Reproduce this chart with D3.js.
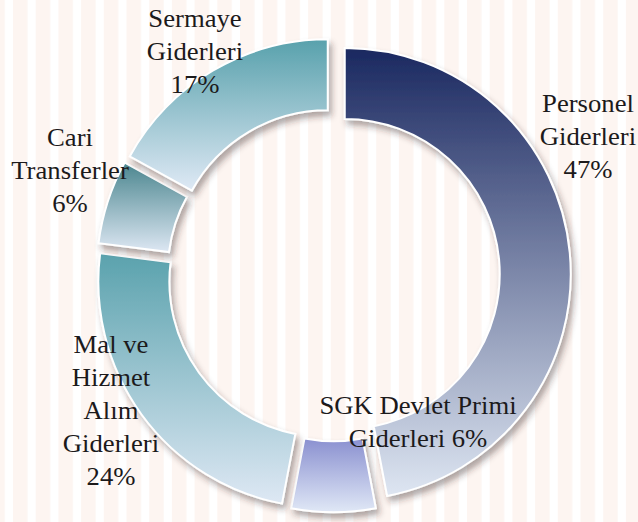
<!DOCTYPE html>
<html>
<head>
<meta charset="utf-8">
<script src="https://cdn.jsdelivr.net/npm/d3@7"></script>
<style>
  html, body { margin: 0; padding: 0; background: #fff; }
  svg { display: block; }
</style>
</head>
<body>
<svg id="chart" width="638" height="522"></svg>
<script>
// ---- data ----
const categories = ["Personel Giderleri", "SGK Devlet Primi Giderleri", "Mal ve Hizmet Alım Giderleri", "Cari Transferler", "Sermaye Giderleri"];
const values = [47, 6, 24, 6, 17];
const labelLines = [
  ["Personel", "Giderleri", "47%"],
  ["SGK Devlet Primi", "Giderleri 6%"],
  ["Mal ve", "Hizmet", "Alım", "Giderleri", "24%"],
  ["Cari", "Transferler", "6%"],
  ["Sermaye", "Giderleri", "17%"]
];

// ---- styles / layout (kept separate from data) ----
const topColors = ["#1a2860", "#8a90d0", "#5aa2ad", "#4b868f", "#58a1ac"];
const bottomColors = ["#dee6f2", "#e0e8f6", "#dee8f4", "#dde7f3", "#dfe9f5"];
const labelPos = [[588, 112], [418, 414], [111, 353], [70, 146], [195, 27]];

const W = 638, H = 522;
const cx = 333.5, cy = 275, R = 226, r = 155, explode = 11.3;
const lineH = 33;

const svg = d3.select("#chart");
const defs = svg.append("defs");

// striped background
const pat = defs.append("pattern").attr("id", "stripes")
  .attr("patternUnits", "userSpaceOnUse")
  .attr("x", 13).attr("y", 0).attr("width", 22.7).attr("height", 10);
pat.append("rect").attr("width", 22.7).attr("height", 10).attr("fill", "#ffffff");
pat.append("rect").attr("width", 14.5).attr("height", 10).attr("fill", "#fdf5f1");
svg.append("rect").attr("width", W).attr("height", H).attr("fill", "url(#stripes)");

// shadow
const f = defs.append("filter").attr("id", "shadow")
  .attr("x", "-20%").attr("y", "-20%").attr("width", "140%").attr("height", "140%");
f.append("feDropShadow").attr("dx", 3).attr("dy", 5).attr("stdDeviation", 3)
  .attr("flood-color", "#3a2a2a").attr("flood-opacity", 0.4);

// gradients
categories.forEach((c, i) => {
  const g = defs.append("linearGradient").attr("id", "grad" + i)
    .attr("x1", 0).attr("y1", 0).attr("x2", 0).attr("y2", 1);
  g.append("stop").attr("offset", "0%").attr("stop-color", topColors[i]);
  g.append("stop").attr("offset", "100%").attr("stop-color", bottomColors[i]);
});

const data = categories.map((c, i) => ({ name: c, value: values[i], idx: i }));
const pie = d3.pie().sort(null).value(d => d.value).startAngle(0).endAngle(2 * Math.PI);
const arc = d3.arc().innerRadius(r).outerRadius(R);

const root = svg.append("g").attr("transform", `translate(${cx},${cy})`);
root.selectAll("path.slice")
  .data(pie(data))
  .join("path")
  .attr("class", "slice")
  .attr("transform", d => {
    const a = (d.startAngle + d.endAngle) / 2;
    return `translate(${explode * Math.sin(a)},${-explode * Math.cos(a)})`;
  })
  .attr("d", arc)
  .attr("fill", d => `url(#grad${d.data.idx})`)
  .attr("stroke", "#ffffff")
  .attr("stroke-width", 2)
  .attr("filter", "url(#shadow)");

// labels
const lg = svg.append("g").attr("font-family", "'Liberation Serif', 'Times New Roman', serif")
  .attr("font-size", 24.5).attr("fill", "#1c1a1b").attr("text-anchor", "middle");
labelLines.forEach((lines, i) => {
  const t = lg.append("text")
    .attr("transform", `translate(${labelPos[i][0]},${labelPos[i][1]}) scale(1.09,1)`);
  lines.forEach((ln, j) => {
    t.append("tspan").attr("x", 0).attr("y", j * lineH).text(ln);
  });
});
</script>
</body>
</html>
